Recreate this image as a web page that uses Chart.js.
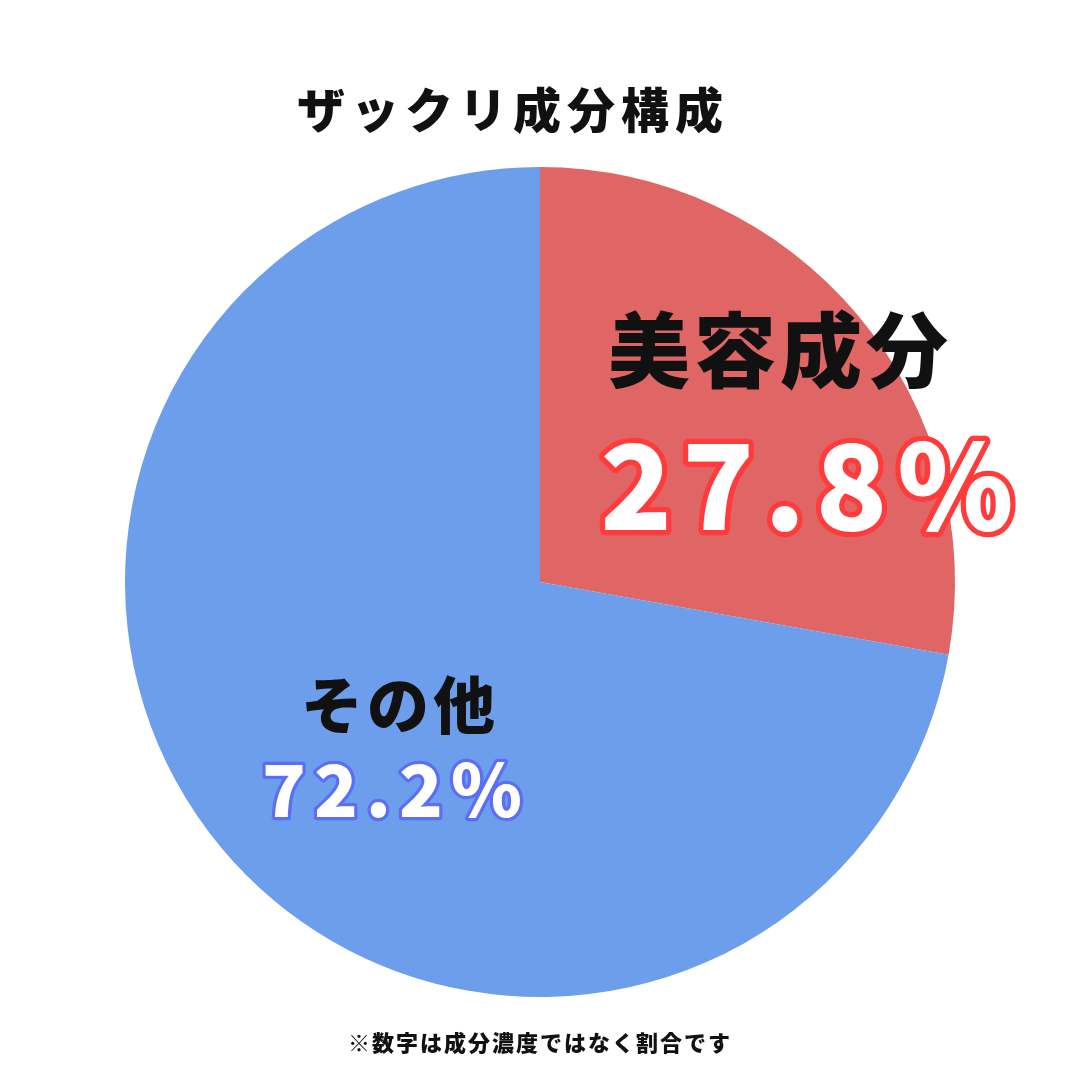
<!DOCTYPE html>
<html>
<head>
<meta charset="utf-8">
<script src="https://cdn.jsdelivr.net/npm/chart.js@4"></script>
<style>
  html, body { margin: 0; padding: 0; background: #fff; }
</style>
</head>
<body>
<canvas id="pie" width="1080" height="1080"></canvas>
<script>
const categories = ["美容成分", "その他"];
const shares = [27.8, 72.2];
const sliceColors = ["#e06666", "#6d9eeb"];
const titleText = "ザックリ成分構成";
const noteText = "※数字は成分濃度ではなく割合です";

const font = '"Noto Sans CJK JP", sans-serif';

// labels drawn on top of the slices
const labelPlugin = {
  id: "labels",
  afterDraw(chart) {
    const ctx = chart.ctx;
    ctx.save();
    ctx.textAlign = "center";
    ctx.textBaseline = "middle";
    ctx.lineJoin = "round";

    ctx.fillStyle = "#111";
    ctx.letterSpacing = "6px";
    ctx.font = "900 48px " + font;
    ctx.fillText(titleText, 513, 110);

    ctx.letterSpacing = "2px";
    ctx.font = "900 22px " + font;
    ctx.fillText(noteText, 540, 1043);

    ctx.letterSpacing = "4px";
    ctx.font = "900 82px " + font;
    ctx.fillText(categories[0], 780, 350);
    ctx.font = "900 62px " + font;
    ctx.fillText(categories[1], 400, 705);

    const pct = (v, x, y, size, stroke, sp) => {
      ctx.letterSpacing = sp;
      ctx.font = "900 " + size + "px " + font;
      ctx.lineWidth = size * 0.09;
      ctx.strokeStyle = stroke;
      ctx.strokeText(v.toFixed(1) + "%", x, y);
      ctx.fillStyle = "#fff";
      ctx.fillText(v.toFixed(1) + "%", x, y);
    };
    pct(shares[0], 812, 485, 118, "#ff3b3b", "10px");
    pct(shares[1], 396, 790, 72, "#5b6ef5", "8px");
    ctx.restore();
  }
};

new Chart(document.getElementById("pie"), {
  type: "pie",
  data: {
    labels: categories,
    datasets: [{
      data: shares,
      backgroundColor: sliceColors,
      borderWidth: 0
    }]
  },
  options: {
    responsive: false,
    animation: false,
    layout: { padding: { left: 125, right: 125, top: 167, bottom: 83 } },
    plugins: { legend: { display: false }, tooltip: { enabled: false } }
  },
  plugins: [labelPlugin]
});
</script>
</body>
</html>
